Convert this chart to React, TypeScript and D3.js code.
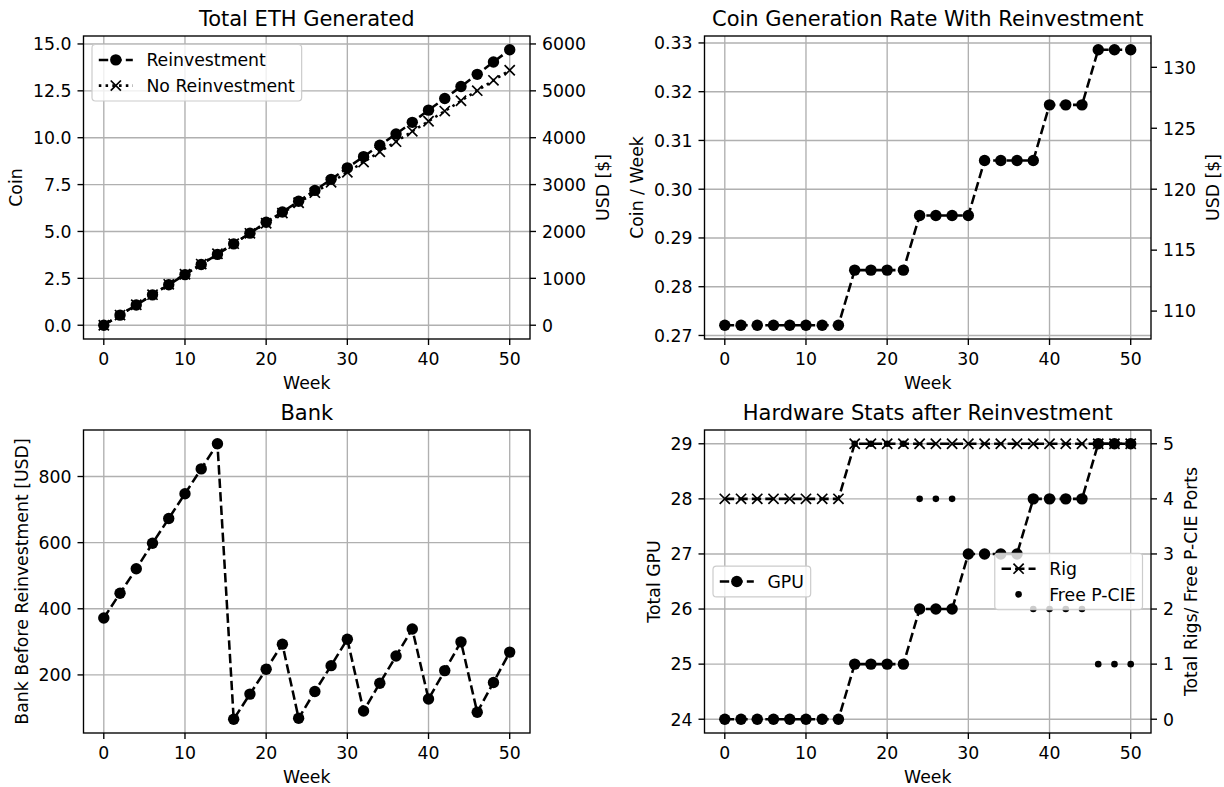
import React, { useEffect, useRef } from 'react';
import * as d3 from 'd3';

// ---- data (one entry every two weeks) ----
const weeks = [0, 2, 4, 6, 8, 10, 12, 14, 16, 18, 20, 22, 24, 26, 28, 30, 32, 34, 36, 38, 40, 42, 44, 46, 48, 50];

const ethReinvest = [0, 0.54, 1.08, 1.62, 2.16, 2.70, 3.24, 3.78, 4.34, 4.91, 5.49, 6.04, 6.61, 7.19, 7.78, 8.39, 8.99, 9.60, 10.20, 10.82, 11.47, 12.09, 12.73, 13.38, 14.04, 14.69];
const ethNoReinvest = [0, 0.54, 1.09, 1.63, 2.18, 2.72, 3.26, 3.81, 4.35, 4.90, 5.44, 5.98, 6.53, 7.07, 7.62, 8.16, 8.70, 9.25, 9.79, 10.34, 10.88, 11.42, 11.97, 12.51, 13.06, 13.60];

const coinRate = [0.2721, 0.2721, 0.2721, 0.2721, 0.2721, 0.2721, 0.2721, 0.2721, 0.2834, 0.2834, 0.2834, 0.2834, 0.2946, 0.2946, 0.2946, 0.2946, 0.3059, 0.3059, 0.3059, 0.3059, 0.3173, 0.3173, 0.3173, 0.3286, 0.3286, 0.3286];

const bankUsd = [372, 447, 521, 598, 673, 748, 823, 899, 66, 142, 217, 293, 69, 150, 228, 308, 91, 175, 257, 339, 127, 213, 300, 87, 177, 269];

const gpuCount = [24, 24, 24, 24, 24, 24, 24, 24, 25, 25, 25, 25, 26, 26, 26, 27, 27, 27, 27, 28, 28, 28, 28, 29, 29, 29];
const rigCount = [4, 4, 4, 4, 4, 4, 4, 4, 5, 5, 5, 5, 5, 5, 5, 5, 5, 5, 5, 5, 5, 5, 5, 5, 5, 5];
const freePcie = [0, 0, 0, 0, 0, 0, 0, 0, 5, 5, 5, 5, 4, 4, 4, 3, 3, 3, 3, 2, 2, 2, 2, 1, 1, 1];

const ETH_PRICE_USD = 400;

// ---- tick labels ----
const weekTicks = [0, 10, 20, 30, 40, 50];
const coinTicks = [0, 2.5, 5, 7.5, 10, 12.5, 15];
const usdTotalTicks = [0, 1000, 2000, 3000, 4000, 5000, 6000];
const rateTicks = [0.27, 0.28, 0.29, 0.30, 0.31, 0.32, 0.33];
const rateUsdTicks = [110, 115, 120, 125, 130];
const bankTicks = [200, 400, 600, 800];
const gpuTicks = [24, 25, 26, 27, 28, 29];
const rigTicks = [0, 1, 2, 3, 4, 5];

// ---- styling ----
const W = 1224;
const H = 787;
const FONT = '"DejaVu Sans", Verdana, sans-serif';
const FS = 17.3;
const TITLE_FS = 21;
const LW = 2.55;
const DASHED = '9.4,4.1';
const DOTTED = '2.55,4.2';
const GRID = '#b0b0b0';
const THIN = 1.36;
const TICK_LEN = 6;
const TICK_PAD = 6;
const LABEL_PAD = 6.8;

const COLS = [{ x0: 83.5, x1: 530 }, { x0: 704.5, x1: 1151 }];
const ROWS = [{ y0: 36, y1: 339 }, { y0: 430, y1: 733 }];

type Sel = d3.Selection<SVGGElement, unknown, null, undefined>;
type Box = { x0: number; x1: number; y0: number; y1: number };
type Marker = 'o' | 'x' | '.';

function padDomain(...series: number[][]): [number, number] {
  const all = series.flat();
  const lo = d3.min(all) as number;
  const hi = d3.max(all) as number;
  const m = (hi - lo) * 0.05;
  return [lo - m, hi + m];
}

function drawMarker(g: Sel, kind: Marker, cx: number, cy: number) {
  if (kind === 'o') {
    g.append('circle').attr('cx', cx).attr('cy', cy).attr('r', 5.7).attr('fill', '#000');
  } else if (kind === '.') {
    g.append('circle').attr('cx', cx).attr('cy', cy).attr('r', 3.3).attr('fill', '#000');
  } else {
    const s = 5.1;
    g.append('path')
      .attr('d', `M${cx - s},${cy - s}L${cx + s},${cy + s}M${cx - s},${cy + s}L${cx + s},${cy - s}`)
      .attr('stroke', '#000')
      .attr('stroke-width', 1.7)
      .attr('fill', 'none');
  }
}

function drawSeries(
  g: Sel,
  clipId: string,
  x: d3.ScaleLinear<number, number>,
  y: d3.ScaleLinear<number, number>,
  xs: number[],
  ys: number[],
  dash: string | null,
  marker: Marker,
) {
  const sg = g.append('g').attr('clip-path', `url(#${clipId})`);
  if (dash) {
    const line = d3.line<number>().x((_, i) => x(xs[i])).y((d) => y(d));
    sg.append('path')
      .attr('d', line(ys) as string)
      .attr('fill', 'none')
      .attr('stroke', '#000')
      .attr('stroke-width', LW)
      .attr('stroke-dasharray', dash);
  }
  ys.forEach((v, i) => drawMarker(sg, marker, x(xs[i]), y(v)));
}

function drawGrid(g: Sel, box: Box, x: d3.ScaleLinear<number, number>, y: d3.ScaleLinear<number, number>, xt: number[], yt: number[]) {
  const gg = g.append('g');
  xt.forEach((t) => {
    gg.append('line').attr('x1', x(t)).attr('x2', x(t)).attr('y1', box.y0).attr('y2', box.y1)
      .attr('stroke', GRID).attr('stroke-width', THIN);
  });
  yt.forEach((t) => {
    gg.append('line').attr('x1', box.x0).attr('x2', box.x1).attr('y1', y(t)).attr('y2', y(t))
      .attr('stroke', GRID).attr('stroke-width', THIN);
  });
}

function addText(g: Sel, str: string, x: number, y: number, anchor: string, size = FS) {
  return g.append('text')
    .attr('x', x).attr('y', y)
    .attr('text-anchor', anchor)
    .attr('font-family', FONT)
    .attr('font-size', size)
    .attr('fill', '#000')
    .text(str);
}

function drawLeftAxis(g: Sel, box: Box, y: d3.ScaleLinear<number, number>, ticks: number[], fmt: (v: number) => string, label: string) {
  let maxW = 0;
  ticks.forEach((t) => {
    const yy = y(t);
    g.append('line').attr('x1', box.x0 - TICK_LEN).attr('x2', box.x0).attr('y1', yy).attr('y2', yy)
      .attr('stroke', '#000').attr('stroke-width', THIN);
    const tx = addText(g, fmt(t), box.x0 - TICK_LEN - TICK_PAD, yy + 0.3645 * FS, 'end');
    maxW = Math.max(maxW, (tx.node() as SVGTextElement).getComputedTextLength());
  });
  const bx = box.x0 - TICK_LEN - TICK_PAD - maxW - LABEL_PAD - 0.236 * FS;
  const cy = (box.y0 + box.y1) / 2;
  g.append('text')
    .attr('transform', `translate(${bx},${cy}) rotate(-90)`)
    .attr('text-anchor', 'middle')
    .attr('font-family', FONT)
    .attr('font-size', FS)
    .text(label);
}

function drawRightAxis(g: Sel, box: Box, y: d3.ScaleLinear<number, number>, ticks: number[], fmt: (v: number) => string, label: string) {
  let maxW = 0;
  ticks.forEach((t) => {
    const yy = y(t);
    g.append('line').attr('x1', box.x1).attr('x2', box.x1 + TICK_LEN).attr('y1', yy).attr('y2', yy)
      .attr('stroke', '#000').attr('stroke-width', THIN);
    const tx = addText(g, fmt(t), box.x1 + TICK_LEN + TICK_PAD, yy + 0.3645 * FS, 'start');
    maxW = Math.max(maxW, (tx.node() as SVGTextElement).getComputedTextLength());
  });
  const bx = box.x1 + TICK_LEN + TICK_PAD + maxW + LABEL_PAD + 0.928 * FS;
  const cy = (box.y0 + box.y1) / 2;
  g.append('text')
    .attr('transform', `translate(${bx},${cy}) rotate(-90)`)
    .attr('text-anchor', 'middle')
    .attr('font-family', FONT)
    .attr('font-size', FS)
    .text(label);
}

function drawBottomAxis(g: Sel, box: Box, x: d3.ScaleLinear<number, number>, ticks: number[], label: string) {
  ticks.forEach((t) => {
    const xx = x(t);
    g.append('line').attr('x1', xx).attr('x2', xx).attr('y1', box.y1).attr('y2', box.y1 + TICK_LEN)
      .attr('stroke', '#000').attr('stroke-width', THIN);
    addText(g, String(t), xx, box.y1 + 26, 'middle');
  });
  addText(g, label, (box.x0 + box.x1) / 2, box.y1 + 49.5, 'middle');
}

function drawSpines(g: Sel, box: Box) {
  g.append('rect')
    .attr('x', box.x0).attr('y', box.y0)
    .attr('width', box.x1 - box.x0).attr('height', box.y1 - box.y0)
    .attr('fill', 'none').attr('stroke', '#000').attr('stroke-width', THIN);
}

function drawTitle(g: Sel, box: Box, title: string) {
  addText(g, title, (box.x0 + box.x1) / 2, box.y0 - 10, 'middle', TITLE_FS);
}

type LegendEntry = { label: string; dash: string | null; marker: Marker };

function drawLegend(g: Sel, entries: LegendEntry[], place: { left?: number; right?: number; top?: number; cy?: number }) {
  const pad = 6.8;
  const handleLen = 34;
  const textPad = 13.6;
  const rowH = 17.2;
  const spacing = 8.5;
  const lg = g.append('g');
  const rect = lg.append('rect');
  const texts = entries.map((e) => addText(lg, e.label, 0, 0, 'start'));
  const maxW = d3.max(texts, (t) => (t.node() as SVGTextElement).getComputedTextLength()) as number;
  const w = pad * 2 + handleLen + textPad + maxW;
  const h = pad * 2 + entries.length * rowH + (entries.length - 1) * spacing;
  const left = place.left !== undefined ? place.left : (place.right as number) - w;
  const top = place.top !== undefined ? place.top : (place.cy as number) - h / 2;
  rect.attr('x', left).attr('y', top).attr('width', w).attr('height', h)
    .attr('rx', 3.4).attr('ry', 3.4)
    .attr('fill', '#fff').attr('fill-opacity', 0.8)
    .attr('stroke', '#cccccc').attr('stroke-width', 1.2);
  entries.forEach((e, i) => {
    const cy = top + pad + rowH / 2 + i * (rowH + spacing);
    const hx = left + pad;
    if (e.dash) {
      lg.append('line').attr('x1', hx).attr('x2', hx + handleLen).attr('y1', cy).attr('y2', cy)
        .attr('stroke', '#000').attr('stroke-width', LW).attr('stroke-dasharray', e.dash);
    }
    drawMarker(lg, e.marker, hx + handleLen / 2, cy);
    texts[i].attr('x', hx + handleLen + textPad).attr('y', cy + 6.2);
  });
}

function addClip(defs: d3.Selection<SVGDefsElement, unknown, null, undefined>, id: string, box: Box) {
  defs.append('clipPath').attr('id', id)
    .append('rect')
    .attr('x', box.x0).attr('y', box.y0)
    .attr('width', box.x1 - box.x0).attr('height', box.y1 - box.y0);
}

function renderChart(svgEl: SVGSVGElement) {
  const svg = d3.select(svgEl);
  svg.selectAll('*').remove();
  svg.append('rect').attr('width', W).attr('height', H).attr('fill', '#fff');
  const defs = svg.append('defs');
  const root = svg.append('g') as unknown as Sel;

  const weekDomain: [number, number] = padDomain(weeks);

  // ---------- Total ETH Generated ----------
  {
    const box: Box = { ...COLS[0], ...ROWS[0] };
    const g = root.append('g');
    addClip(defs, 'clip-eth', box);
    const x = d3.scaleLinear().domain(weekDomain).range([box.x0, box.x1]);
    const yDom = padDomain(ethReinvest, ethNoReinvest);
    const y = d3.scaleLinear().domain(yDom).range([box.y1, box.y0]);
    const yUsd = d3.scaleLinear().domain([yDom[0] * ETH_PRICE_USD, yDom[1] * ETH_PRICE_USD]).range([box.y1, box.y0]);
    drawGrid(g, box, x, y, weekTicks, coinTicks);
    drawSeries(g, 'clip-eth', x, y, weeks, ethReinvest, DASHED, 'o');
    drawSeries(g, 'clip-eth', x, y, weeks, ethNoReinvest, DOTTED, 'x');
    drawLegend(g, [
      { label: 'Reinvestment', dash: DASHED, marker: 'o' },
      { label: 'No Reinvestment', dash: DOTTED, marker: 'x' },
    ], { left: box.x0 + 8.5, top: box.y0 + 8.5 });
    drawSpines(g, box);
    drawLeftAxis(g, box, y, coinTicks, d3.format('.1f'), 'Coin');
    drawRightAxis(g, box, yUsd, usdTotalTicks, d3.format('d'), 'USD [$]');
    drawBottomAxis(g, box, x, weekTicks, 'Week');
    drawTitle(g, box, 'Total ETH Generated');
  }

  // ---------- Coin Generation Rate With Reinvestment ----------
  {
    const box: Box = { ...COLS[1], ...ROWS[0] };
    const g = root.append('g');
    addClip(defs, 'clip-rate', box);
    const x = d3.scaleLinear().domain(weekDomain).range([box.x0, box.x1]);
    const yDom = padDomain(coinRate);
    const y = d3.scaleLinear().domain(yDom).range([box.y1, box.y0]);
    const yUsd = d3.scaleLinear().domain([yDom[0] * ETH_PRICE_USD, yDom[1] * ETH_PRICE_USD]).range([box.y1, box.y0]);
    drawGrid(g, box, x, y, weekTicks, rateTicks);
    drawSeries(g, 'clip-rate', x, y, weeks, coinRate, DASHED, 'o');
    drawSpines(g, box);
    drawLeftAxis(g, box, y, rateTicks, d3.format('.2f'), 'Coin / Week');
    drawRightAxis(g, box, yUsd, rateUsdTicks, d3.format('d'), 'USD [$]');
    drawBottomAxis(g, box, x, weekTicks, 'Week');
    drawTitle(g, box, 'Coin Generation Rate With Reinvestment');
  }

  // ---------- Bank ----------
  {
    const box: Box = { ...COLS[0], ...ROWS[1] };
    const g = root.append('g');
    addClip(defs, 'clip-bank', box);
    const x = d3.scaleLinear().domain(weekDomain).range([box.x0, box.x1]);
    const y = d3.scaleLinear().domain(padDomain(bankUsd)).range([box.y1, box.y0]);
    drawGrid(g, box, x, y, weekTicks, bankTicks);
    drawSeries(g, 'clip-bank', x, y, weeks, bankUsd, DASHED, 'o');
    drawSpines(g, box);
    drawLeftAxis(g, box, y, bankTicks, d3.format('d'), 'Bank Before Reinvestment [USD]');
    drawBottomAxis(g, box, x, weekTicks, 'Week');
    drawTitle(g, box, 'Bank');
  }

  // ---------- Hardware Stats after Reinvestment ----------
  {
    const box: Box = { ...COLS[1], ...ROWS[1] };
    const g = root.append('g');
    addClip(defs, 'clip-hw', box);
    const x = d3.scaleLinear().domain(weekDomain).range([box.x0, box.x1]);
    const y = d3.scaleLinear().domain(padDomain(gpuCount)).range([box.y1, box.y0]);
    const y2 = d3.scaleLinear().domain(padDomain(rigCount, freePcie)).range([box.y1, box.y0]);
    drawGrid(g, box, x, y, weekTicks, gpuTicks);
    drawSeries(g, 'clip-hw', x, y, weeks, gpuCount, DASHED, 'o');
    drawLegend(g, [{ label: 'GPU', dash: DASHED, marker: 'o' }], { left: box.x0 + 8.5, cy: (box.y0 + box.y1) / 2 });
    drawSeries(g, 'clip-hw', x, y2, weeks, rigCount, DASHED, 'x');
    drawSeries(g, 'clip-hw', x, y2, weeks, freePcie, null, '.');
    drawLegend(g, [
      { label: 'Rig', dash: DASHED, marker: 'x' },
      { label: 'Free P-CIE', dash: null, marker: '.' },
    ], { right: box.x1 - 8.5, cy: (box.y0 + box.y1) / 2 });
    drawSpines(g, box);
    drawLeftAxis(g, box, y, gpuTicks, d3.format('d'), 'Total GPU');
    drawRightAxis(g, box, y2, rigTicks, d3.format('d'), 'Total Rigs/ Free P-CIE Ports');
    drawBottomAxis(g, box, x, weekTicks, 'Week');
    drawTitle(g, box, 'Hardware Stats after Reinvestment');
  }
}

export default function App() {
  const ref = useRef<SVGSVGElement>(null);
  useEffect(() => {
    if (ref.current) renderChart(ref.current);
  }, []);
  return (
    <svg
      ref={ref}
      width={W}
      height={H}
      viewBox={`0 0 ${W} ${H}`}
      style={{ position: 'absolute', left: 0, top: 0, display: 'block' }}
    />
  );
}
